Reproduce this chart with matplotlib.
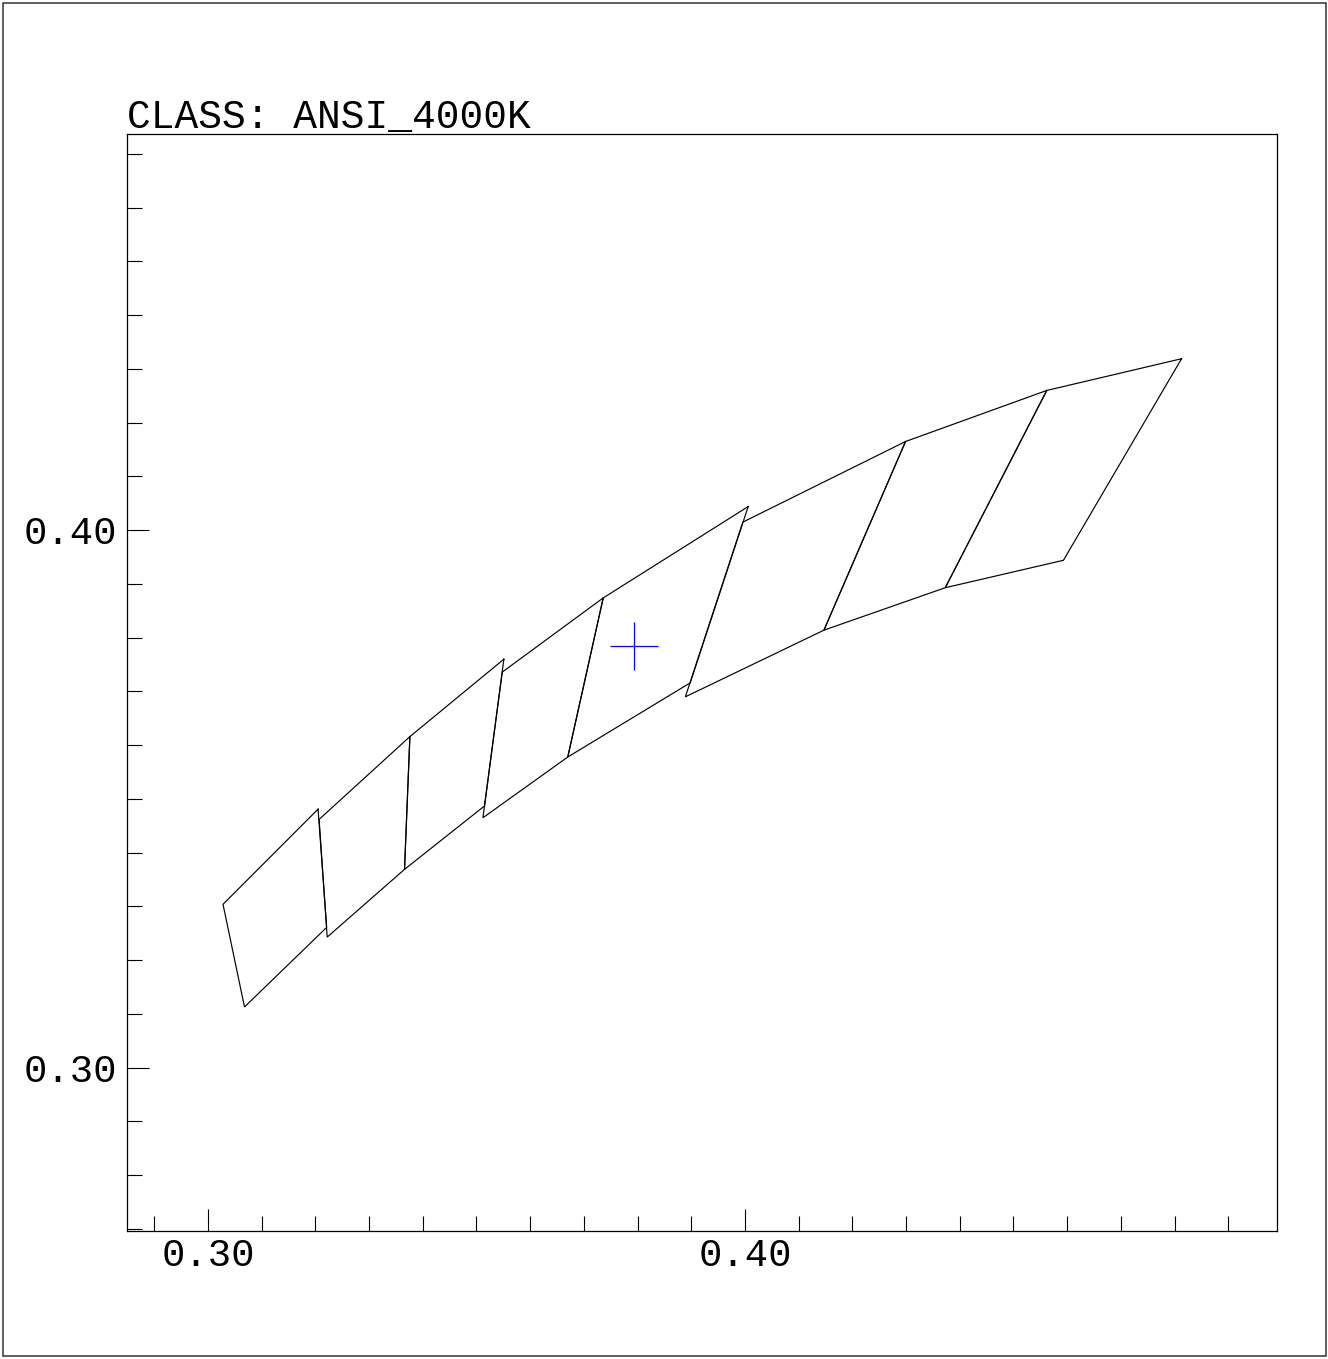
import matplotlib
matplotlib.use("Agg")
import matplotlib.pyplot as plt
from matplotlib.ticker import MultipleLocator, FormatStrFormatter
from matplotlib.patches import Rectangle

# ---- data (CIE x, y of the quadrangles) ----
bins = ["2700K", "3000K", "3500K", "4000K", "4500K", "5000K", "5700K", "6500K"]
quad_x = [
    [0.4813, 0.4562, 0.4373, 0.4593],
    [0.4562, 0.4299, 0.4147, 0.4373],
    [0.4299, 0.3996, 0.3889, 0.4147],
    [0.4006, 0.3736, 0.3670, 0.3898],
    [0.3736, 0.3548, 0.3512, 0.3670],
    [0.3551, 0.3376, 0.3366, 0.3515],
    [0.3376, 0.3207, 0.3222, 0.3366],
    [0.3205, 0.3028, 0.3068, 0.3221],
]
quad_y = [
    [0.4319, 0.4260, 0.3893, 0.3944],
    [0.4260, 0.4165, 0.3814, 0.3893],
    [0.4165, 0.4015, 0.3690, 0.3814],
    [0.4044, 0.3874, 0.3578, 0.3716],
    [0.3874, 0.3736, 0.3465, 0.3578],
    [0.3760, 0.3616, 0.3369, 0.3487],
    [0.3616, 0.3462, 0.3243, 0.3369],
    [0.3481, 0.3304, 0.3113, 0.3261],
]
point_x = [0.3794]
point_y = [0.3785]
title_text = "CLASS: ANSI_4000K"

W, H = 1328, 1359
fig = plt.figure(figsize=(W / 100, H / 100), dpi=100)
fig.patch.set_facecolor("white")

ax = fig.add_axes([127 / W, 1 - 1231 / H, (1277.3 - 127) / W, (1231 - 134) / H])

for qx, qy in zip(quad_x, quad_y):
    ax.plot(qx + qx[:1], qy + qy[:1], color="black", lw=0.85, solid_joinstyle="miter")

ax.plot(point_x, point_y, marker="+", color="blue", markersize=35, markeredgewidth=0.9,
        linestyle="none")

ax.set_xlim(0.28492, 0.49913)
ax.set_ylim(0.26962, 0.47371)

mono = ["Liberation Mono", "DejaVu Sans Mono"]
for a in (ax.xaxis, ax.yaxis):
    a.set_major_locator(MultipleLocator(0.1))
    a.set_minor_locator(MultipleLocator(0.01))
    a.set_major_formatter(FormatStrFormatter("%.2f"))

ax.tick_params(which="both", direction="in", top=False, right=False, color="black", width=0.8)
ax.tick_params(which="major", length=15.5)
ax.tick_params(which="minor", length=10.5)
ax.tick_params(axis="x", which="major", pad=5)
ax.tick_params(axis="y", which="major", pad=7)
for lab in ax.get_xticklabels() + ax.get_yticklabels():
    lab.set_family(mono)
    lab.set_fontsize(28)

for s in ax.spines.values():
    s.set_linewidth(0.9)
    s.set_color("black")

fig.text(127 / W, 1 - 128 / H, title_text, family=mono, fontsize=28.5,
         ha="left", va="baseline", color="black")

fig.patches.append(Rectangle((3 / W, 3 / H), (1325.7 - 3) / W, (1356 - 3) / H,
                             transform=fig.transFigure, fill=False,
                             edgecolor="#333333", lw=1.1))

fig.savefig("out.png", dpi=100, facecolor="white")
